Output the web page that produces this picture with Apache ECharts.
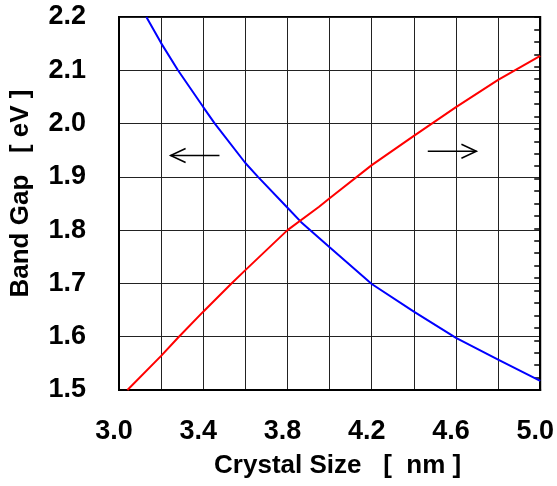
<!DOCTYPE html>
<html>
<head>
<meta charset="utf-8">
<script src="https://cdn.jsdelivr.net/npm/echarts@6/dist/echarts.min.js"></script>
<style>
  html, body { margin: 0; padding: 0; background: #fff; }
  #main { width: 557px; height: 486px; }
</style>
</head>
<body>
<div id="main"></div>
<script>
// crystal size [nm] vs band gap [eV]
var blueX = [3.13, 3.2, 3.28, 3.4, 3.455, 3.6, 3.66, 3.8, 3.865, 4.0, 4.2, 4.4, 4.6, 4.8, 5.0];
var blueY = [2.20, 2.151, 2.10, 2.031, 2.00, 1.926, 1.90, 1.842, 1.815, 1.768, 1.699, 1.647, 1.598, 1.557, 1.517];
var redX = [3.04, 3.2, 3.28, 3.4, 3.534, 3.6, 3.8, 3.95, 4.0, 4.2, 4.4, 4.6, 4.8, 5.0];
var redY = [1.50, 1.564, 1.598, 1.647, 1.70, 1.725, 1.80, 1.844, 1.86, 1.922, 1.977, 2.031, 2.082, 2.127];
// arrows: [x start, x end, y, direction]
var arrows = [[3.245, 3.477, 1.94, -1], [4.466, 4.697, 1.948, 1]];

var font = "'Liberation Sans', Arial, sans-serif";

function pairs(xs, ys) {
  return xs.map(function (x, i) { return [x, ys[i]]; });
}

var chart = echarts.init(document.getElementById('main'), null, {renderer: 'canvas'});
var option = {
  animation: false,
  grid: {
    left: 117, right: 16, top: 17, bottom: 96,
    show: true, borderColor: '#000', borderWidth: 2, backgroundColor: '#fff'
  },
  xAxis: {
    type: 'value', min: 3.0, max: 5.0, interval: 0.2,
    name: 'Crystal Size   [  nm ]', nameLocation: 'middle', nameGap: 63,
    nameTextStyle: {fontFamily: font, fontWeight: 'bold', fontSize: 26, color: '#000', padding: [0, 0, 0, 16]},
    axisLine: {lineStyle: {color: '#000', width: 2}},
    axisTick: {show: false},
    axisLabel: {
      margin: 28, fontFamily: font, fontWeight: 'bold', fontSize: 27, color: '#000',
      padding: [0, 10, 0, 0],
      formatter: function (v) { return Math.round(v * 10) % 4 === 2 ? v.toFixed(1) : ''; }
    },
    splitLine: {show: true, lineStyle: {color: '#222', width: 1}}
  },
  yAxis: [{
    type: 'value', min: 1.5, max: 2.2, interval: 0.1,
    name: 'Band Gap   [ eV ]', nameLocation: 'middle', nameGap: 85,
    nameTextStyle: {fontFamily: font, fontWeight: 'bold', fontSize: 26, color: '#000', padding: [0, 0, 0, 20]},
    axisLine: {show: true, lineStyle: {color: '#000', width: 2}},
    axisTick: {show: false},
    axisLabel: {
      margin: 33, fontFamily: font, fontWeight: 'bold', fontSize: 27, color: '#000',
      padding: [5, 0, 0, 0],
      formatter: function (v) { return v.toFixed(1); }
    },
    splitLine: {show: true, lineStyle: {color: '#222', width: 1}}
  }, {
    type: 'value', min: 0, max: 30, interval: 1, position: 'right',
    axisLine: {show: true, lineStyle: {color: '#000', width: 2}},
    axisTick: {show: true, inside: true, length: 6, lineStyle: {color: '#000', width: 1.5}},
    axisLabel: {show: false},
    splitLine: {show: false}
  }],
  series: [{
    type: 'line', data: pairs(blueX, blueY), showSymbol: false,
    lineStyle: {color: '#0000ff', width: 2}, itemStyle: {color: '#0000ff'}
  }, {
    type: 'line', data: pairs(redX, redY), showSymbol: false,
    lineStyle: {color: '#ff0000', width: 2}, itemStyle: {color: '#ff0000'}
  }, {
    type: 'custom', data: arrows, silent: true,
    renderItem: function (params, api) {
      var p1 = api.coord([api.value(0), api.value(2)]);
      var p2 = api.coord([api.value(1), api.value(2)]);
      var dir = api.value(3);
      var tip = dir < 0 ? p1 : p2;
      var s = dir < 0 ? 1 : -1;
      return {
        type: 'group',
        children: [{
          type: 'line',
          shape: {x1: p1[0], y1: p1[1], x2: p2[0], y2: p2[1]},
          style: {stroke: '#000', lineWidth: 1.5}
        }, {
          type: 'polyline',
          shape: {points: [[tip[0] + s * 15, tip[1] - 7], [tip[0], tip[1]], [tip[0] + s * 15, tip[1] + 7]]},
          style: {stroke: '#000', fill: null, lineWidth: 1.5}
        }]
      };
    }
  }]
};
chart.setOption(option);
</script>
</body>
</html>
